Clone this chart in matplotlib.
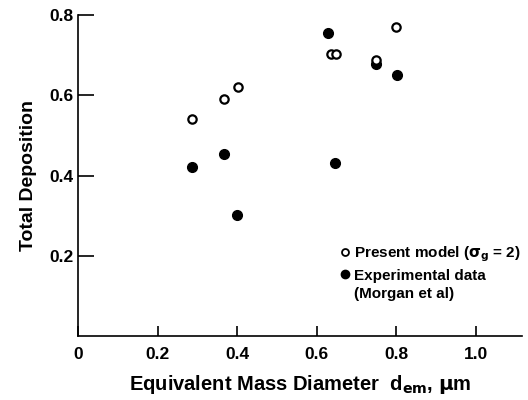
import matplotlib
matplotlib.use("Agg")
import matplotlib.pyplot as plt
from matplotlib.lines import Line2D

plt.rcParams['font.family'] = ['Liberation Sans', 'DejaVu Sans']
plt.rcParams['font.weight'] = 'bold'

# present model (open circles)
model_x = [0.287, 0.368, 0.402, 0.636, 0.648, 0.749, 0.800]
model_y = [0.540, 0.591, 0.621, 0.702, 0.702, 0.689, 0.771]

# experimental data, Morgan et al (filled circles)
exp_x = [0.286, 0.368, 0.400, 0.629, 0.645, 0.749, 0.803]
exp_y = [0.422, 0.454, 0.302, 0.756, 0.432, 0.679, 0.651]

xticks = [0, 0.2, 0.4, 0.6, 0.8, 1.0]
xticklabels = ['0', '0.2', '0.4', '0.6', '0.8', '1.0']
yticks = [0.2, 0.4, 0.6, 0.8]
yticklabels = ['0.2', '0.4', '0.6', '0.8']

fig = plt.figure(figsize=(5.28, 4.0), dpi=100)
ax = fig.add_axes([0.148, 0.16, 0.841, 0.8025])

ax.plot(exp_x, exp_y, 'o', color='black', markersize=7, linestyle='none', zorder=2)
ax.plot(model_x, model_y, 'o', markerfacecolor='white', markeredgecolor='black',
        markeredgewidth=1.6, markersize=6, linestyle='none', zorder=3)

ax.set_xlim(0, 1.117)
ax.set_ylim(0, 0.8)
ax.spines['top'].set_visible(False)
ax.spines['right'].set_visible(False)
ax.spines['left'].set_linewidth(1.2)
ax.spines['bottom'].set_linewidth(1.2)

ax.set_xticks(xticks)
ax.set_xticklabels(xticklabels)
ax.set_yticks(yticks)
ax.set_yticklabels(yticklabels)
ax.tick_params(axis='y', direction='in', length=11.5, width=1.2, labelsize=12.5, pad=3.5)
ax.tick_params(axis='x', direction='in', length=7.5, width=1.2, labelsize=12.5, pad=8)

ax.set_ylabel('Total Deposition', fontsize=14, fontweight='bold', labelpad=9)
ax.set_xlabel(r'Equivalent Mass Diameter  d$_{\mathbf{em}}$, $\mathbf{\mu}$m',
              fontsize=14.5, fontweight='bold', labelpad=8)

handles = [
    Line2D([], [], marker='o', linestyle='none', markerfacecolor='white',
           markeredgecolor='black', markeredgewidth=1.3, markersize=5),
    Line2D([], [], marker='o', linestyle='none', color='black', markersize=6),
    Line2D([], [], linestyle='none'),
]
labels = [r'Present model ($\mathbf{\sigma_g}$ = 2)', 'Experimental data', '(Morgan et al)']
ax.legend(handles, labels, loc='upper left', bbox_to_anchor=(0.592, 0.285),
          frameon=False, fontsize=11, handlelength=0.5, handletextpad=0.35,
          labelspacing=0.3, borderaxespad=0, borderpad=0)

fig.savefig('out.png', dpi=100)
